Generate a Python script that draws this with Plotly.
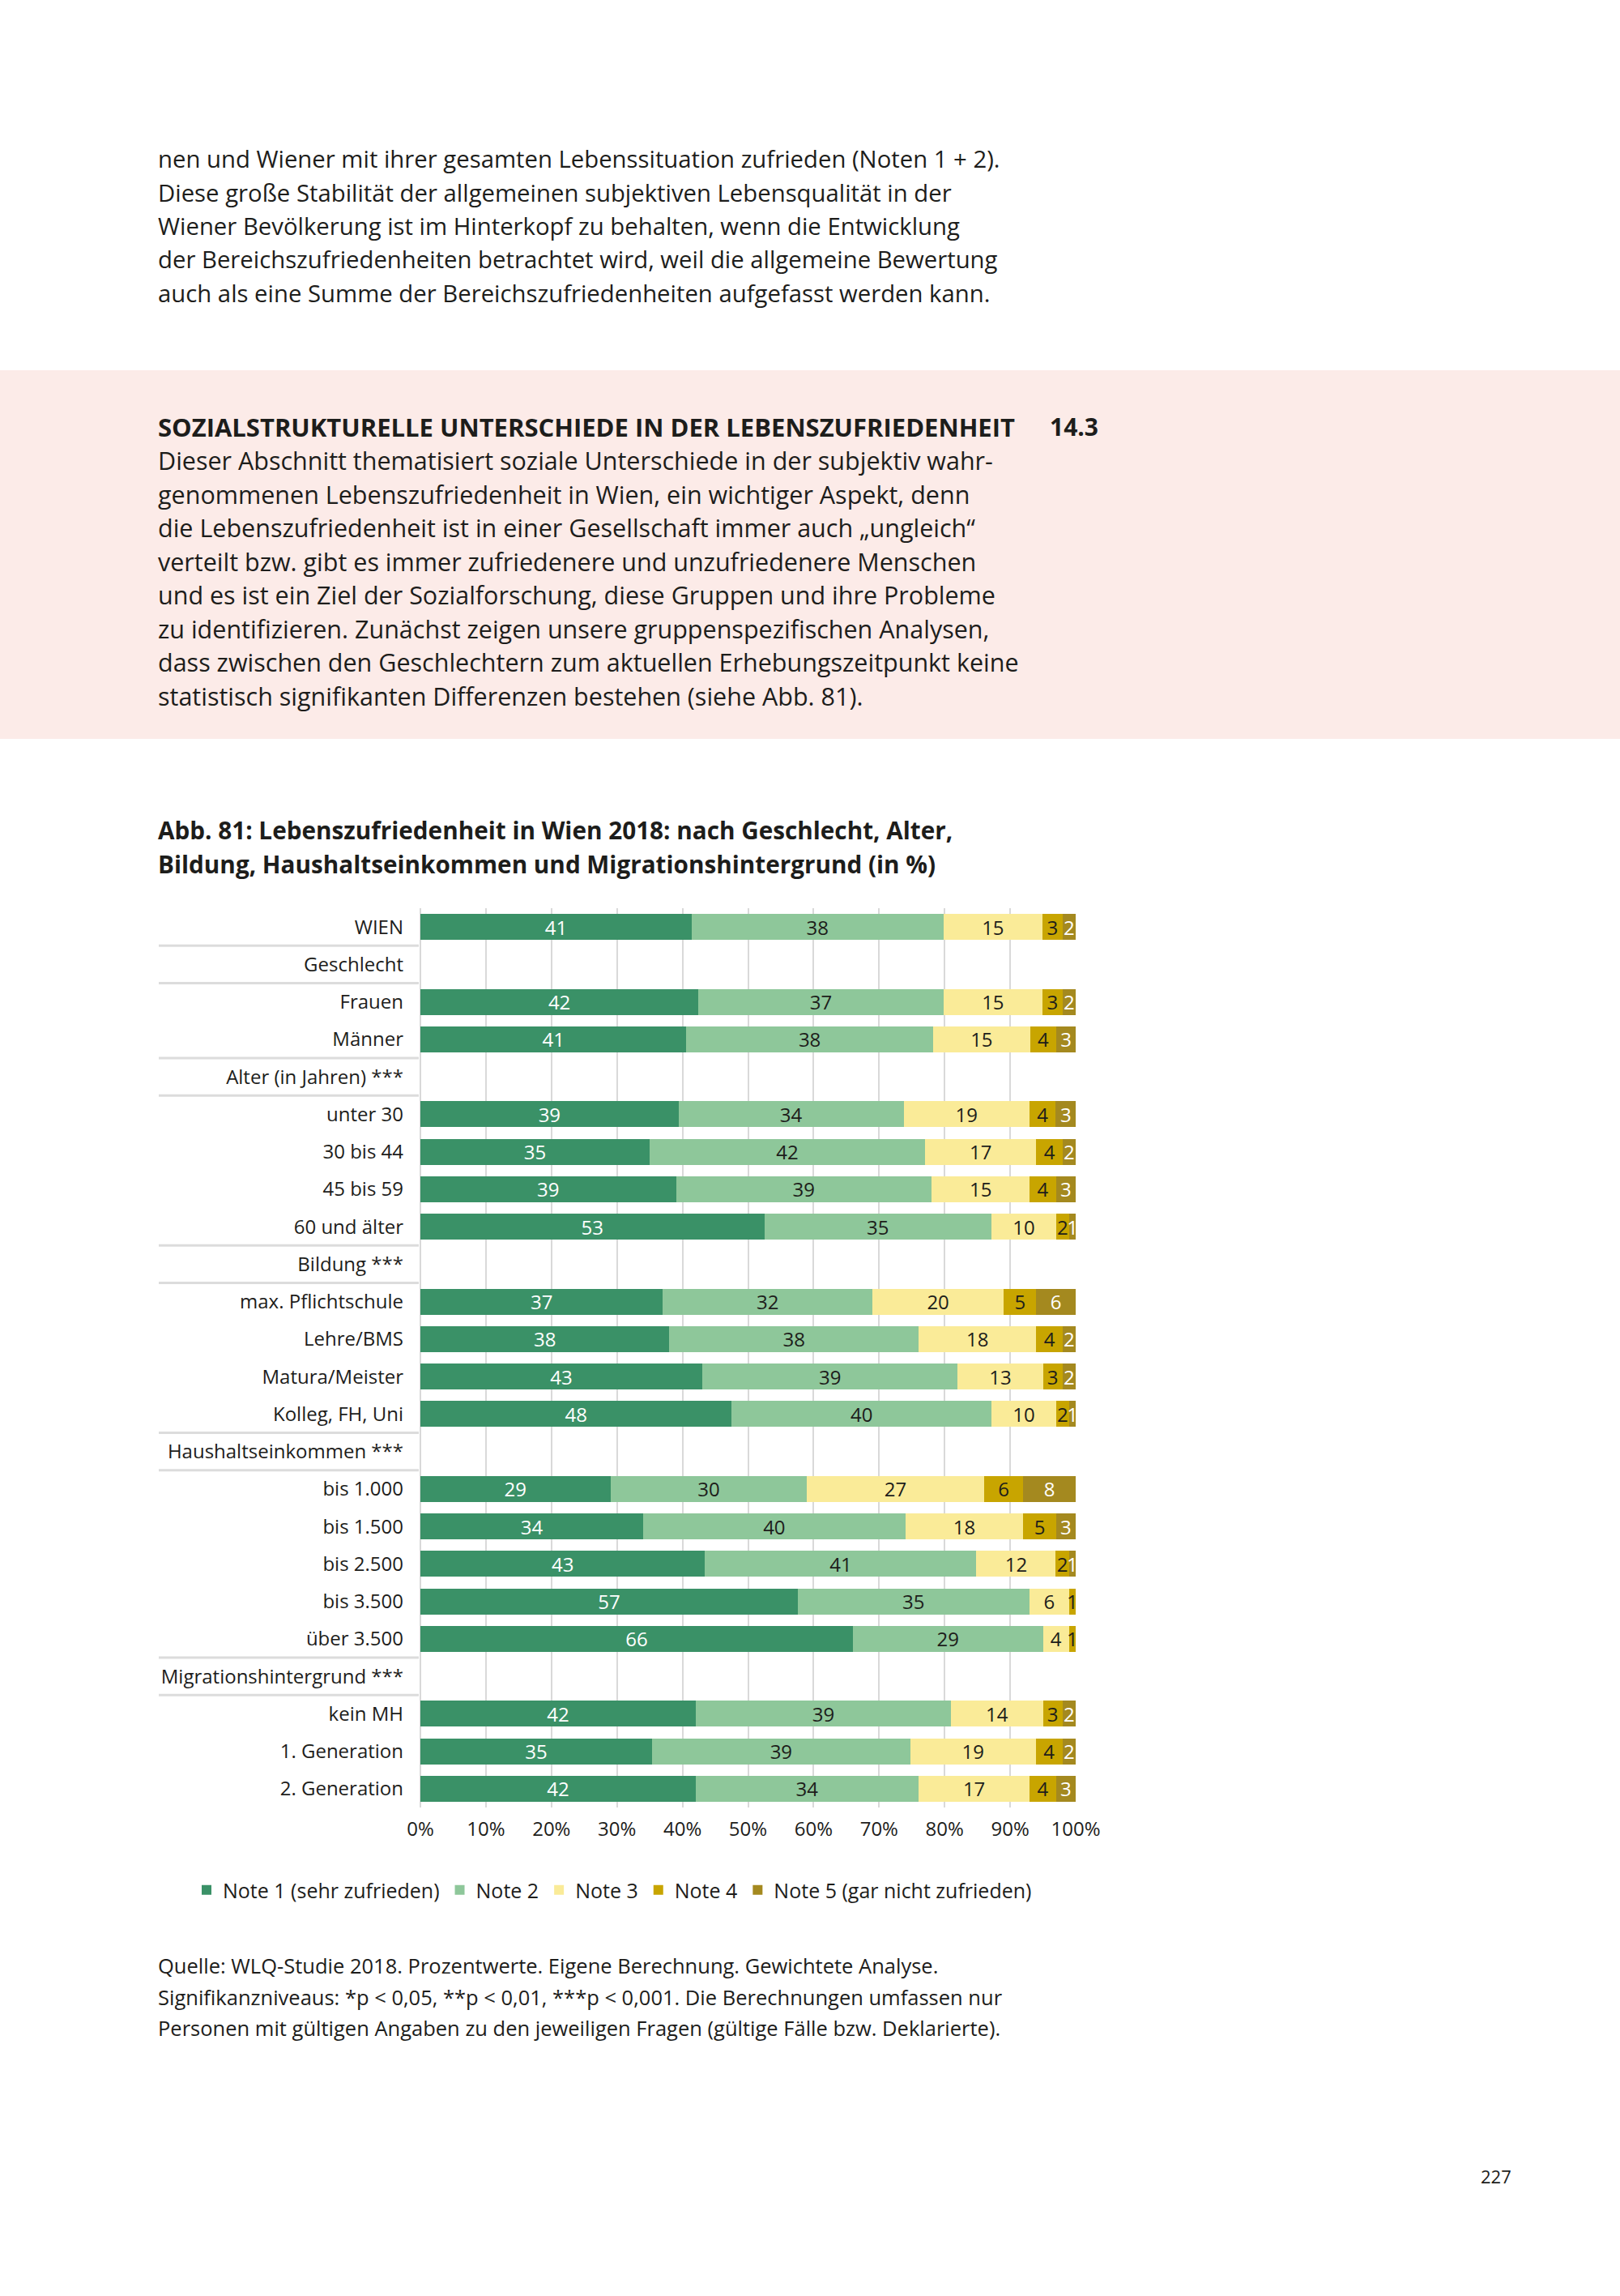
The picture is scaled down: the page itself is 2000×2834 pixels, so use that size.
import plotly.graph_objects as go

# ---------------- data ----------------
categories = ["WIEN", "Geschlecht", "Frauen", "Männer", "Alter (in Jahren) ***",
              "unter 30", "30 bis 44", "45 bis 59", "60 und älter", "Bildung ***",
              "max. Pflichtschule", "Lehre/BMS", "Matura/Meister", "Kolleg, FH, Uni",
              "Haushaltseinkommen ***", "bis 1.000", "bis 1.500", "bis 2.500", "bis 3.500",
              "über 3.500", "Migrationshintergrund ***", "kein MH", "1. Generation", "2. Generation"]

note1 = [41, None, 42, 41, None, 39, 35, 39, 53, None, 37, 38, 43, 48, None, 29, 34, 43, 57, 66, None, 42, 35, 42]
note2 = [38, None, 37, 38, None, 34, 42, 39, 35, None, 32, 38, 39, 40, None, 30, 40, 41, 35, 29, None, 39, 39, 34]
note3 = [15, None, 15, 15, None, 19, 17, 15, 10, None, 20, 18, 13, 10, None, 27, 18, 12, 6, 4, None, 14, 19, 17]
note4 = [3, None, 3, 4, None, 4, 4, 4, 2, None, 5, 4, 3, 2, None, 6, 5, 2, 1, 1, None, 3, 4, 4]
note5 = [2, None, 2, 3, None, 3, 2, 3, 1, None, 6, 2, 2, 1, None, 8, 3, 1, 0, 0, None, 2, 2, 3]

series_names = ["Note 1 (sehr zufrieden)", "Note 2", "Note 3", "Note 4", "Note 5 (gar nicht zufrieden)"]
x_ticks = [0, 10, 20, 30, 40, 50, 60, 70, 80, 90, 100]
x_tick_labels = ["0%", "10%", "20%", "30%", "40%", "50%", "60%", "70%", "80%", "90%", "100%"]

group_boundaries = [0.5, 1.5, 3.5, 4.5, 8.5, 9.5, 13.5, 14.5, 19.5, 20.5]

para1 = [
    "nen und Wiener mit ihrer gesamten Lebenssituation zufrieden (Noten 1 + 2).",
    "Diese große Stabilität der allgemeinen subjektiven Lebensqualität in der",
    "Wiener Bevölkerung ist im Hinterkopf zu behalten, wenn die Entwicklung",
    "der Bereichszufriedenheiten betrachtet wird, weil die allgemeine Bewertung",
    "auch als eine Summe der Bereichszufriedenheiten aufgefasst werden kann.",
]
heading = "SOZIALSTRUKTURELLE UNTERSCHIEDE IN DER LEBENSZUFRIEDENHEIT"
section_no = "14.3"
para2 = [
    "Dieser Abschnitt thematisiert soziale Unterschiede in der subjektiv wahr-",
    "genommenen Lebenszufriedenheit in Wien, ein wichtiger Aspekt, denn",
    "die Lebenszufriedenheit ist in einer Gesellschaft immer auch „ungleich“",
    "verteilt bzw. gibt es immer zufriedenere und unzufriedenere Menschen",
    "und es ist ein Ziel der Sozialforschung, diese Gruppen und ihre Probleme",
    "zu identifizieren. Zunächst zeigen unsere gruppenspezifischen Analysen,",
    "dass zwischen den Geschlechtern zum aktuellen Erhebungszeitpunkt keine",
    "statistisch signifikanten Differenzen bestehen (siehe Abb. 81).",
]
title_lines = [
    "Abb. 81: Lebenszufriedenheit in Wien 2018: nach Geschlecht, Alter,",
    "Bildung, Haushaltseinkommen und Migrationshintergrund (in %)",
]
source_lines = [
    "Quelle: WLQ-Studie 2018. Prozentwerte. Eigene Berechnung. Gewichtete Analyse.",
    "Signifikanzniveaus: *p < 0,05, **p < 0,01, ***p < 0,001. Die Berechnungen umfassen nur",
    "Personen mit gültigen Angaben zu den jeweiligen Fragen (gültige Fälle bzw. Deklarierte).",
]
page_number = "227"

# ---------------- style ----------------
W, H = 2000, 2834
L, R, T, B = 519, 1328, 1121, 2231
PW, PH = R - L, B - T
FONT = "Open Sans"
TXT = "#1d1d1b"
colors = ["#3A9167", "#8EC79A", "#FAEB98", "#C8A500", "#A4891F"]
label_colors = ["#ffffff", TXT, TXT, TXT, "#ffffff"]


def px(x):
    return (x - L) / PW


def py(y):
    return (B - y) / PH


fig = go.Figure()
for name, vals, col, lcol in zip(series_names, [note1, note2, note3, note4, note5], colors, label_colors):
    fig.add_trace(go.Bar(
        y=categories, x=vals, name=name, orientation="h",
        marker=dict(color=col, line=dict(width=0)),
        text=["" if v is None else str(v) for v in vals],
        textposition="inside", insidetextanchor="middle", textangle=0,
        constraintext="none",
        textfont=dict(family=FONT, size=24, color=lcol),
        hoverinfo="skip",
    ))

annotations = []


def add_text(txt, x, y, size=29, bold=False, anchor="left"):
    annotations.append(dict(
        text=txt, xref="paper", yref="paper", x=px(x), y=py(y),
        xanchor=anchor, yanchor="middle", showarrow=False,
        font=dict(family=FONT, size=size, color=TXT, weight=700 if bold else 400),
    ))


for i, line in enumerate(para1):
    add_text(line, 193, 196 + i * 41.5, size=29.3)
add_text(heading, 193, 527, size=31, bold=True)
add_text(section_no, 1294, 527, size=30, bold=True)
for i, line in enumerate(para2):
    add_text(line, 193, 568 + i * 41.5, size=30.5)
for i, line in enumerate(title_lines):
    add_text(line, 193, 1024 + i * 42, size=29.7, bold=True)
for i, line in enumerate(source_lines):
    add_text(line, 193, 2426 + i * 38.5, size=25.5)
add_text(page_number, 1847, 2686, size=22, anchor="center")

shapes = [dict(type="rect", xref="paper", yref="paper", x0=px(0), x1=px(W), y0=py(912), y1=py(457),
               fillcolor="#FCEBE8", line=dict(width=0), layer="below")]
for b in group_boundaries:
    shapes.append(dict(type="line", xref="paper", yref="y", x0=px(196), x1=px(517), y0=b, y1=b,
                       line=dict(color="#DCDCDC", width=3)))

fig.update_layout(
    width=W, height=H,
    margin=dict(l=L, r=W - R, t=T, b=H - B, pad=0),
    barmode="stack", barnorm="percent", bargap=0.31,
    paper_bgcolor="white", plot_bgcolor="white",
    font=dict(family=FONT, color=TXT),
    showlegend=True,
    legend=dict(orientation="h", x=px(235), y=py(2333), xanchor="left", yanchor="middle",
                font=dict(family=FONT, size=25, color=TXT), traceorder="normal",
                itemwidth=30, bgcolor="rgba(0,0,0,0)"),
    annotations=annotations,
    shapes=shapes,
    xaxis=dict(range=[0, 100], tickvals=x_ticks, ticktext=x_tick_labels, showgrid=True,
               gridcolor="#D9D9D9", gridwidth=2, zeroline=True, zerolinecolor="#D9D9D9",
               zerolinewidth=2, showline=False, ticks="", ticklabelstandoff=10,
               tickfont=dict(family=FONT, size=24, color=TXT), fixedrange=True),
    yaxis=dict(type="category", categoryorder="array", categoryarray=categories,
               range=[len(categories) - 0.5, -0.5], showgrid=False, zeroline=False,
               showline=False, ticks="", ticklabelstandoff=20,
               tickfont=dict(family=FONT, size=24, color=TXT), fixedrange=True),
)

fig.write_html("out.html", config={"displayModeBar": False},
               post_script="document.body.style.margin='0';document.body.style.overflow='hidden';")
